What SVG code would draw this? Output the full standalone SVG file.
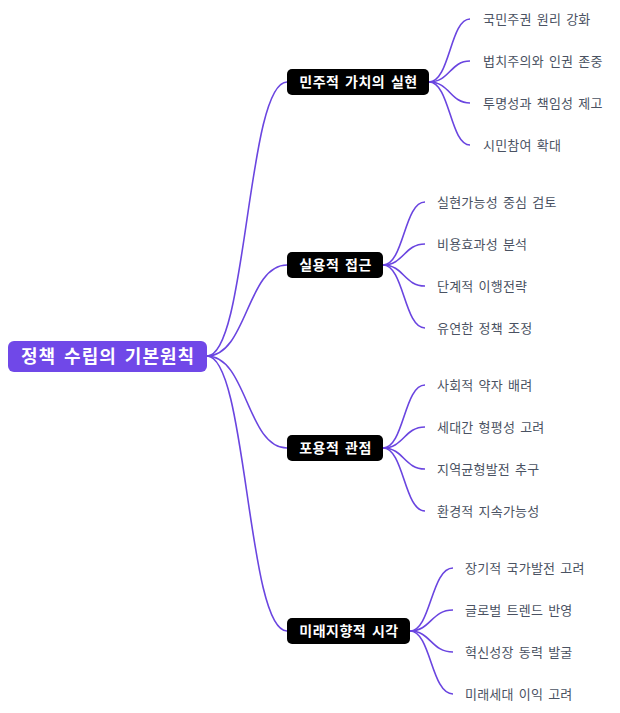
<svg xmlns="http://www.w3.org/2000/svg" width="620" height="713" viewBox="0 0 620 713">
<style>
.c{fill:none;stroke:#6a45e0;stroke-width:1.6}
.b{fill:#000}
.bt{fill:#fff;font-family:"Noto Sans CJK KR","Noto Sans",sans-serif;font-size:14px;font-weight:bold;text-anchor:middle;letter-spacing:0.5px;word-spacing:2px}
.l{fill:#4a5262;font-family:"Noto Sans CJK KR","Noto Sans",sans-serif;font-size:13px;letter-spacing:0.2px;word-spacing:2px}
.rt{fill:#fff;font-family:"Noto Sans CJK KR","Noto Sans",sans-serif;font-size:18px;font-weight:bold;text-anchor:middle;letter-spacing:1px;word-spacing:3px}
</style>
<rect width="620" height="713" fill="#fff"/>
<g id="connectors">
<path class="c" d="M207,356 C247,356 247,82 287,82"/>
<path class="c" d="M207,356 C247,356 247,265 287,265"/>
<path class="c" d="M207,356 C247,356 247,448 287,448"/>
<path class="c" d="M207,356 C247,356 247,631 287,631"/>
<path class="c" d="M429,82 C450,82 450,19 470,19"/>
<path class="c" d="M429,82 C450,82 450,61 470,61"/>
<path class="c" d="M429,82 C450,82 450,103 470,103"/>
<path class="c" d="M429,82 C450,82 450,145 470,145"/>
<path class="c" d="M383,265 C404,265 404,202 425,202"/>
<path class="c" d="M383,265 C404,265 404,244 425,244"/>
<path class="c" d="M383,265 C404,265 404,286 425,286"/>
<path class="c" d="M383,265 C404,265 404,328 425,328"/>
<path class="c" d="M383,448 C404,448 404,385 425,385"/>
<path class="c" d="M383,448 C404,448 404,427 425,427"/>
<path class="c" d="M383,448 C404,448 404,469 425,469"/>
<path class="c" d="M383,448 C404,448 404,511 425,511"/>
<path class="c" d="M410,631 C431,631 431,568 453,568"/>
<path class="c" d="M410,631 C431,631 431,610 453,610"/>
<path class="c" d="M410,631 C431,631 431,652 453,652"/>
<path class="c" d="M410,631 C431,631 431,694 453,694"/>
</g>
<g id="root">
<rect x="8" y="341" width="199" height="31" rx="6" fill="#7048e8"/>
<text class="rt" x="108" y="362.5">정책 수립의 기본원칙</text>
</g>
<g id="b1">
<rect class="b" x="287" y="69" width="142" height="26" rx="5"/>
<text class="bt" x="358.5" y="87">민주적 가치의 실현</text>
</g>
<g id="b2">
<rect class="b" x="287" y="252" width="96" height="26" rx="5"/>
<text class="bt" x="335.5" y="270">실용적 접근</text>
</g>
<g id="b3">
<rect class="b" x="287" y="435" width="96" height="26" rx="5"/>
<text class="bt" x="335.5" y="453">포용적 관점</text>
</g>
<g id="b4">
<rect class="b" x="287" y="618" width="123" height="26" rx="5"/>
<text class="bt" x="349" y="636">미래지향적 시각</text>
</g>
<g id="l1a"><text class="l" x="483" y="23.5">국민주권 원리 강화</text></g>
<g id="l1b"><text class="l" x="483" y="65.5">법치주의와 인권 존중</text></g>
<g id="l1c"><text class="l" x="483" y="107.5">투명성과 책임성 제고</text></g>
<g id="l1d"><text class="l" x="483" y="149.5">시민참여 확대</text></g>
<g id="l2a"><text class="l" x="437" y="206.5">실현가능성 중심 검토</text></g>
<g id="l2b"><text class="l" x="437" y="248.5">비용효과성 분석</text></g>
<g id="l2c"><text class="l" x="437" y="290.5">단계적 이행전략</text></g>
<g id="l2d"><text class="l" x="437" y="332.5">유연한 정책 조정</text></g>
<g id="l3a"><text class="l" x="437" y="389.5">사회적 약자 배려</text></g>
<g id="l3b"><text class="l" x="437" y="431.5">세대간 형평성 고려</text></g>
<g id="l3c"><text class="l" x="437" y="473.5">지역균형발전 추구</text></g>
<g id="l3d"><text class="l" x="437" y="515.5">환경적 지속가능성</text></g>
<g id="l4a"><text class="l" x="465" y="572.5">장기적 국가발전 고려</text></g>
<g id="l4b"><text class="l" x="465" y="614.5">글로벌 트렌드 반영</text></g>
<g id="l4c"><text class="l" x="465" y="656.5">혁신성장 동력 발굴</text></g>
<g id="l4d"><text class="l" x="465" y="698.5">미래세대 이익 고려</text></g>
</svg>
